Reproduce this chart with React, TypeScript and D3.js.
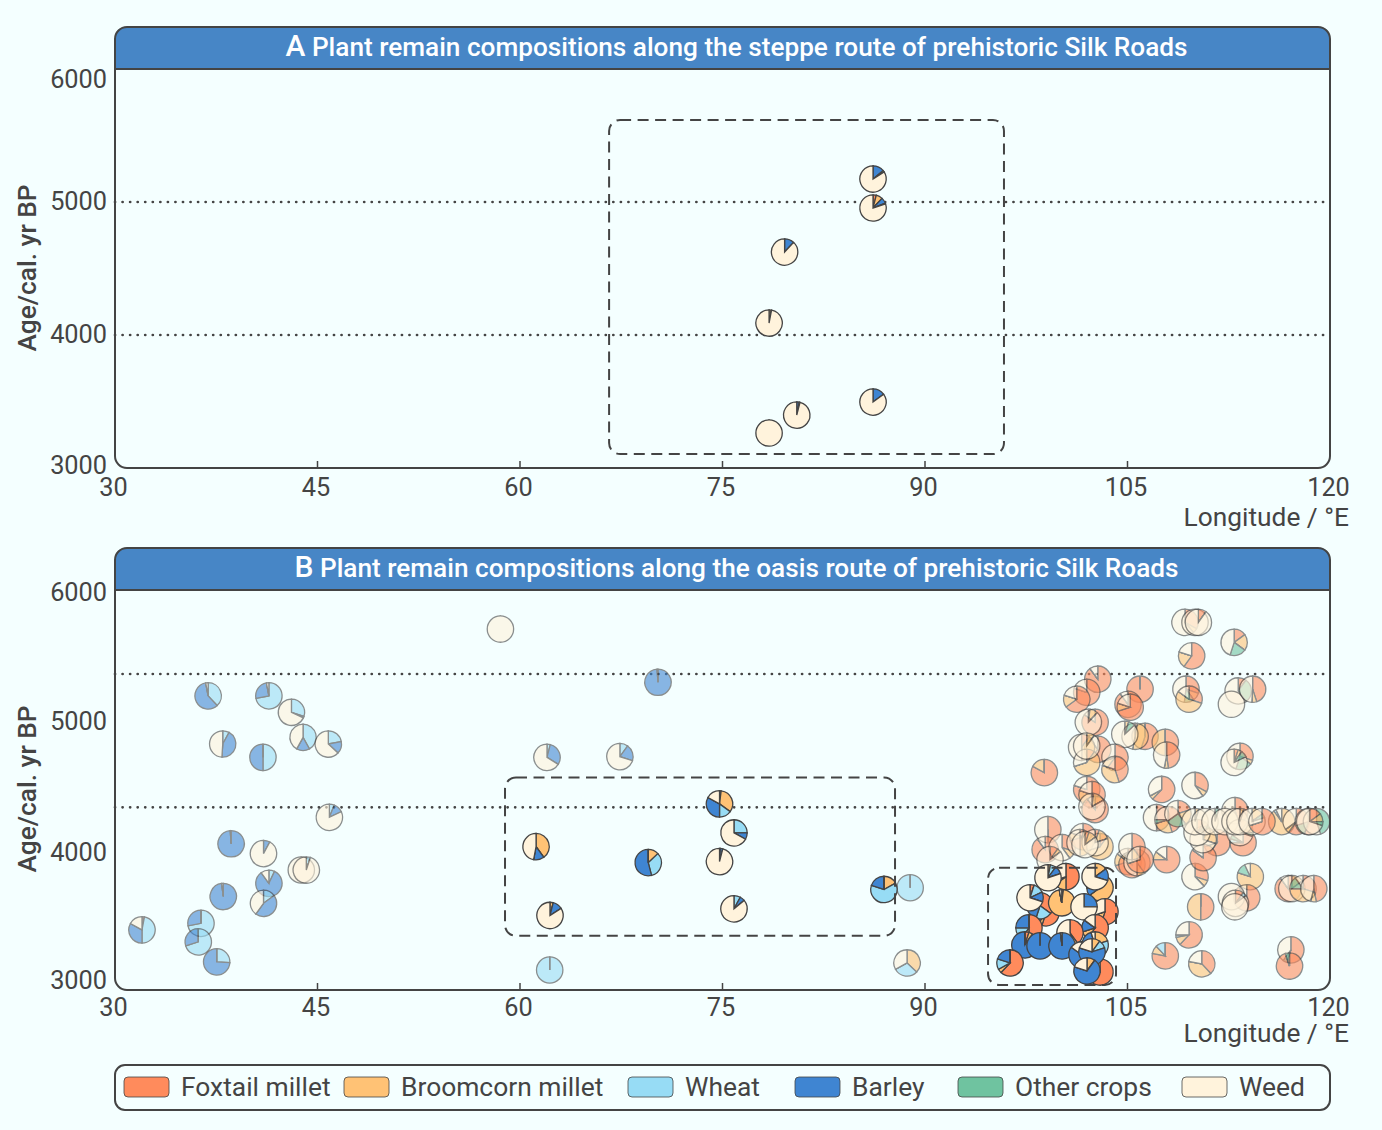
import * as d3 from "d3";

// one site: [longitude, age, foxtail, broomcorn, wheat, barley, other, weed]
type Site = number[];

const CROPS: string[] = ["Foxtail millet", "Broomcorn millet", "Wheat", "Barley", "Other crops", "Weed"];
const CROP_COLORS: string[] = ["#FF8B5C", "#FFC275", "#97DCF5", "#3F85D2", "#6FC3A0", "#FFF3DC"];

const LON_TICKS: number[] = [30, 45, 60, 75, 90, 105, 120];
const AGE_TICKS: number[] = [3000, 4000, 5000, 6000];

const STEPPE_LINES: number[] = [5000, 4000];
const OASIS_LINES: number[] = [5370, 4370];

// [lon min, lon max, age min, age max]
const STEPPE_BOX: number[][] = [[66.6, 95.85, 3105, 5617]];
const OASIS_BOXES: number[][] = [[58.89, 87.78, 3406, 4594], [94.67, 104.15, 3038, 3917]];

const steppeSites: Site[] = [
    [86.15, 5173, 0, 0, 0, 14, 2, 84],
    [86.15, 4955, 4, 8, 0, 7, 1, 80],
    [79.6, 4624, 0, 0, 0, 12, 0, 88],
    [78.45, 4090, 0, 3, 0, 0, 0, 97],
    [86.15, 3496, 0, 0, 0, 15, 0, 85],
    [80.5, 3398, 0, 0, 0, 3, 1, 96],
    [78.45, 3263, 0, 0, 0, 0, 0, 100],
];

// west and middle sites, pale
const oasisWest: Site[] = [
    [36.9, 5206, 0, 0, 38, 59, 0, 3],
    [41.4, 5206, 0, 0, 72, 25, 0, 3],
    [43.07, 5083, 0, 0, 30, 2, 0, 68],
    [43.93, 4895, 0, 0, 42, 16, 0, 42],
    [45.8, 4845, 0, 0, 22, 15, 0, 63],
    [37.98, 4845, 0, 0, 8, 43, 0, 49],
    [40.96, 4745, 0, 0, 50, 50, 0, 0],
    [45.88, 4295, 0, 0, 6, 12, 0, 82],
    [38.6, 4097, 0, 0, 0, 99, 0, 1],
    [41.0, 4023, 0, 0, 0, 8, 0, 92],
    [43.8, 3900, 0, 0, 0, 0, 0, 100],
    [44.17, 3900, 0, 0, 5, 0, 0, 95],
    [41.4, 3800, 0, 0, 7, 83, 0, 10],
    [38.02, 3701, 0, 0, 0, 98, 0, 2],
    [41.0, 3650, 0, 0, 15, 45, 0, 40],
    [32.0, 3451, 3, 0, 47, 33, 0, 17],
    [36.37, 3500, 0, 0, 72, 28, 0, 0],
    [36.17, 3361, 0, 0, 70, 30, 0, 0],
    [37.53, 3211, 0, 0, 26, 74, 0, 0],
    [58.55, 5707, 0, 0, 0, 0, 0, 100],
    [70.22, 5308, 0, 0, 0, 99, 0, 1],
    [62.0, 4745, 0, 0, 4, 30, 0, 66],
    [67.4, 4750, 0, 0, 10, 20, 0, 70],
    [88.9, 3767, 0, 0, 100, 0, 0, 0],
    [62.2, 3150, 0, 0, 100, 0, 0, 0],
    [88.67, 3203, 0, 37, 30, 0, 0, 33],
];

// east sites, pale, back to front
const oasisEast: Site[] = [
    [98.84, 4630, 83, 17, 0, 0, 0, 0],
    [102.8, 5331, 90, 0, 0, 0, 0, 10],
    [101.98, 5233, 80, 0, 0, 0, 0, 20],
    [101.24, 5181, 65, 15, 0, 0, 0, 20],
    [105.93, 5256, 100, 0, 0, 0, 0, 0],
    [105.04, 5143, 90, 0, 0, 0, 0, 10],
    [105.2, 5121, 70, 10, 0, 0, 0, 20],
    [102.6, 5008, 85, 0, 0, 0, 0, 15],
    [102.1, 5008, 2, 10, 0, 0, 0, 88],
    [106.3, 4903, 55, 45, 0, 0, 0, 0],
    [105.56, 4903, 3, 50, 0, 0, 0, 47],
    [104.8, 4918, 0, 5, 0, 0, 8, 87],
    [107.8, 4857, 50, 50, 0, 0, 0, 0],
    [107.9, 4762, 48, 5, 0, 0, 0, 47],
    [102.8, 4805, 60, 30, 0, 0, 0, 10],
    [101.6, 4820, 10, 40, 0, 0, 0, 50],
    [104.07, 4745, 60, 10, 0, 0, 0, 30],
    [104.07, 4654, 45, 35, 0, 0, 0, 20],
    [101.98, 4707, 10, 60, 0, 0, 0, 30],
    [101.98, 4830, 0, 10, 0, 0, 0, 90],
    [107.53, 4504, 62, 5, 0, 0, 0, 33],
    [110.0, 4534, 33, 7, 0, 0, 0, 60],
    [101.98, 4504, 80, 0, 0, 0, 0, 20],
    [102.37, 4466, 60, 20, 0, 0, 0, 20],
    [102.6, 4354, 90, 0, 0, 0, 0, 10],
    [102.37, 4376, 2, 15, 0, 0, 0, 83],
    [99.1, 4203, 50, 0, 0, 0, 0, 50],
    [98.9, 4053, 90, 0, 0, 0, 0, 10],
    [100.15, 4068, 30, 10, 0, 0, 0, 60],
    [99.26, 3978, 10, 5, 0, 0, 0, 85],
    [105.04, 3963, 70, 15, 0, 0, 0, 15],
    [105.33, 3940, 85, 5, 0, 0, 0, 10],
    [105.7, 3955, 40, 10, 0, 0, 0, 50],
    [105.33, 4075, 40, 10, 0, 0, 0, 50],
    [101.7, 4150, 70, 10, 0, 0, 0, 20],
    [101.48, 4105, 5, 45, 0, 0, 0, 50],
    [102.96, 4075, 10, 60, 0, 0, 0, 30],
    [102.6, 4105, 5, 15, 0, 0, 0, 80],
    [101.85, 4090, 5, 10, 0, 0, 0, 85],
    [105.93, 3978, 70, 0, 0, 0, 0, 30],
    [107.15, 4293, 50, 0, 0, 0, 0, 50],
    [108.0, 4278, 45, 25, 0, 0, 5, 25],
    [108.74, 4323, 20, 20, 0, 0, 25, 35],
    [107.9, 3978, 75, 10, 0, 0, 0, 15],
    [110.0, 3850, 30, 8, 0, 0, 0, 62],
    [114.1, 3850, 0, 80, 0, 0, 13, 7],
    [113.83, 3692, 90, 0, 0, 0, 0, 10],
    [110.42, 3624, 50, 50, 0, 0, 0, 0],
    [109.56, 3414, 62, 10, 3, 0, 0, 25],
    [107.8, 3256, 78, 10, 12, 0, 0, 0],
    [110.5, 3196, 38, 40, 0, 0, 0, 22],
    [117.1, 3301, 55, 0, 0, 0, 5, 40],
    [117.0, 3180, 95, 0, 0, 0, 5, 0],
    [116.42, 4263, 0, 90, 3, 0, 0, 7],
    [117.5, 4263, 60, 5, 0, 0, 0, 35],
    [118.4, 4263, 55, 0, 0, 0, 15, 30],
    [119.0, 4263, 0, 0, 0, 0, 45, 55],
    [118.5, 4263, 15, 10, 0, 0, 5, 70],
    [116.9, 3760, 90, 0, 0, 0, 0, 10],
    [117.17, 3760, 0, 15, 0, 0, 0, 85],
    [118.0, 3760, 30, 45, 0, 0, 15, 10],
    [118.8, 3760, 47, 7, 0, 0, 0, 46],
    [112.9, 5607, 15, 20, 0, 0, 20, 45],
    [109.33, 5256, 30, 10, 0, 0, 12, 48],
    [109.56, 5181, 30, 55, 0, 0, 0, 15],
    [113.2, 5243, 10, 0, 0, 0, 30, 60],
    [112.7, 5143, 0, 0, 0, 0, 0, 100],
    [114.27, 5256, 45, 6, 0, 0, 0, 49],
    [109.26, 5757, 33, 6, 0, 0, 0, 61],
    [110.0, 5757, 0, 0, 0, 0, 0, 100],
    [110.25, 5757, 10, 0, 0, 0, 0, 90],
    [109.75, 5506, 60, 20, 0, 0, 0, 20],
    [113.33, 4752, 30, 5, 0, 0, 20, 45],
    [112.9, 4707, 5, 5, 0, 0, 8, 82],
    [112.96, 4345, 45, 0, 0, 0, 0, 55],
    [111.63, 4105, 60, 10, 0, 0, 0, 30],
    [113.56, 4105, 75, 0, 5, 0, 5, 15],
    [110.6, 3993, 85, 0, 0, 0, 0, 15],
    [110.6, 4128, 5, 25, 0, 0, 0, 70],
    [110.15, 4181, 10, 5, 0, 0, 5, 80],
    [110.0, 4263, 0, 5, 0, 0, 0, 95],
    [110.74, 4263, 0, 0, 0, 0, 0, 100],
    [111.48, 4263, 0, 0, 0, 0, 5, 95],
    [112.22, 4263, 0, 0, 0, 0, 0, 100],
    [113.33, 4181, 10, 15, 0, 0, 5, 70],
    [112.96, 4263, 0, 0, 0, 0, 0, 100],
    [113.33, 4263, 0, 5, 0, 0, 0, 95],
    [114.22, 4263, 0, 15, 0, 0, 5, 80],
    [114.96, 4263, 70, 0, 0, 0, 0, 30],
    [112.7, 3700, 0, 0, 0, 0, 0, 100],
    [113.0, 3650, 10, 0, 5, 0, 0, 85],
    [112.95, 3624, 0, 0, 0, 0, 0, 100],
];

// the two dashed boxes, full colour, back to front
const oasisKept: Site[] = [
    [74.78, 4396, 2, 33, 15, 33, 0, 17],
    [75.85, 4178, 0, 0, 25, 8, 0, 67],
    [61.19, 4075, 0, 40, 0, 13, 0, 47],
    [69.5, 3955, 0, 13, 33, 54, 0, 0],
    [74.78, 3963, 1, 0, 0, 3, 0, 96],
    [86.96, 3754, 0, 17, 63, 20, 0, 0],
    [62.22, 3559, 0, 4, 0, 12, 0, 84],
    [75.85, 3609, 0, 0, 8, 6, 0, 86],
    [100.44, 3850, 50, 15, 5, 0, 0, 30],
    [102.96, 3767, 0, 65, 0, 10, 0, 25],
    [103.33, 3587, 55, 15, 0, 0, 0, 30],
    [98.96, 3579, 55, 5, 0, 40, 0, 0],
    [98.52, 3632, 35, 0, 20, 45, 0, 0],
    [97.7, 3466, 50, 10, 15, 25, 0, 0],
    [100.13, 3654, 2, 95, 0, 0, 0, 3],
    [97.78, 3692, 5, 0, 13, 12, 0, 70],
    [99.11, 3842, 0, 3, 7, 10, 0, 80],
    [102.6, 3850, 0, 15, 0, 15, 0, 70],
    [101.78, 3624, 0, 0, 0, 25, 0, 75],
    [102.6, 3466, 60, 10, 0, 15, 0, 15],
    [100.74, 3429, 40, 5, 0, 0, 0, 55],
    [97.4, 3338, 5, 5, 0, 90, 0, 0],
    [98.52, 3331, 0, 0, 0, 100, 0, 0],
    [100.15, 3331, 0, 0, 0, 98, 0, 2],
    [102.96, 3135, 80, 0, 0, 0, 0, 20],
    [101.63, 3263, 0, 10, 0, 75, 0, 15],
    [102.6, 3338, 0, 20, 15, 60, 0, 5],
    [102.37, 3286, 0, 10, 10, 60, 0, 20],
    [102.0, 3143, 0, 10, 0, 70, 0, 20],
    [96.3, 3203, 62, 5, 13, 20, 0, 0],
];

const INK = "#444444";
const PALE = "#f4ffff";
const HEADER = "#4786C6";
const PIE_R = 13.2;

const x_scale = d3.scaleLinear().domain([30, 120]).range([115, 1330]);
const pie_layout = d3.pie<number>().sort(null).value((d) => d);
const arc_path = d3.arc<d3.PieArcDatum<number>>().innerRadius(0).outerRadius(PIE_R);

function PieMark({ site, y, pale }: { site: Site; y: d3.ScaleLinear<number, number>; pale: boolean }) {
    // zero slices stay in: they leave the radial tick seen on single crop pies
    const slices = pie_layout(site.slice(2));
    return (
        <g transform={`translate(${x_scale(site[0])},${y(site[1])})`} opacity={pale ? 0.6 : 1}>
            {slices.map((s, i) => <path key={i} d={arc_path(s)!} fill={CROP_COLORS[i]} stroke={INK} strokeWidth={1.3} />)}
        </g>
    );
}

function Panel({ top, bottom, letter, title, lines, boxes, layers, age_offsets, lon_label_dy, axis_title_dy }: {
    top: number;
    bottom: number;
    letter: string;
    title: string;
    lines: number[];
    boxes: number[][];
    layers: { sites: Site[]; pale: boolean }[];
    age_offsets: number[];
    lon_label_dy: number;
    axis_title_dy: number;
}) {
    const left = x_scale.range()[0];
    const right = x_scale.range()[1];
    const y = d3.scaleLinear().domain([3000, 6000]).range([bottom, top + 42]);
    const tick_font = { fontFamily: "Roboto", fontSize: 25.3, fill: INK };
    const r = 12;
    const header = `M${left},${top + 42}V${top + r}Q${left},${top} ${left + r},${top}H${right - r}Q${right},${top} ${right},${top + r}V${top + 42}Z`;

    return (
        <g>
            <path d={header} fill={HEADER} />
            <text x={736.5} y={top + 29} textAnchor="middle" fontFamily="Roboto" fontWeight={500} fontSize={26.2} fill="#ffffff">
                <tspan fontSize={30}>{letter}</tspan> {title}
            </text>

            {lines.map((v) => (
                <line key={v} x1={left} x2={right} y1={y(v)} y2={y(v)} stroke={INK} strokeWidth={2.7} strokeLinecap="round" strokeDasharray="0.1 7.45" />
            ))}

            {layers.map((layer, k) => (
                <g key={k}>
                    {layer.sites.map((s, i) => <PieMark key={i} site={s} y={y} pale={layer.pale} />)}
                </g>
            ))}

            {boxes.map((b, i) => (
                <rect key={i} x={x_scale(b[0])} y={y(b[3])} width={x_scale(b[1]) - x_scale(b[0])} height={y(b[2]) - y(b[3])} rx={11}
                    fill="none" stroke={INK} strokeWidth={2} strokeDasharray="11 6.5" />
            ))}

            <rect x={left} y={top} width={right - left} height={bottom - top} rx={r} fill="none" stroke={INK} strokeWidth={2} />
            <line x1={left} x2={right} y1={top + 42} y2={top + 42} stroke={INK} strokeWidth={2} />

            {LON_TICKS.slice(1, -1).map((t) => (
                <line key={t} x1={x_scale(t)} x2={x_scale(t)} y1={bottom} y2={bottom - 7} stroke={INK} strokeWidth={1.5} />
            ))}
            {LON_TICKS.map((t) => (
                <text key={t} x={x_scale(t) - 1.5} y={bottom + lon_label_dy} textAnchor="middle" {...tick_font}>{t}</text>
            ))}
            {AGE_TICKS.map((t, i) => (
                <text key={t} x={107} y={y(t) + age_offsets[i]} textAnchor="end" {...tick_font}>{t}</text>
            ))}

            <text x={1349} y={bottom + axis_title_dy} textAnchor="end" fontFamily="Roboto" fontSize={26.3} fill={INK}>Longitude / °E</text>
            <text transform={`translate(36,${top + 241}) rotate(-90)`} textAnchor="middle" fontFamily="Roboto" fontWeight={500} fontSize={26.3} fill={INK}>
                Age/cal. yr BP
            </text>
        </g>
    );
}

function Legend() {
    // swatch left edges
    const swatch_x = [124, 344, 628, 795, 958, 1182];
    return (
        <g>
            <rect x={115} y={1065} width={1215} height={45} rx={10} fill="none" stroke={INK} strokeWidth={2} />
            {CROPS.map((c, i) => (
                <g key={c}>
                    <rect x={swatch_x[i]} y={1077} width={45} height={20} rx={4} fill={CROP_COLORS[i]} stroke={INK} strokeWidth={0.8} />
                    <text x={swatch_x[i] + 57} y={1096} fontFamily="Roboto" fontSize={26.4} fill={INK}>{c}</text>
                </g>
            ))}
        </g>
    );
}

export default function App() {
    return (
        <>
            <style>{`body{margin:0;background:${PALE}}`}</style>
            <svg width={1382} height={1130} style={{ display: "block" }}>
                <rect width={1382} height={1130} fill={PALE} />
                <Panel top={27} bottom={468} letter="A" title="Plant remain compositions along the steppe route of prehistoric Silk Roads"
                    lines={STEPPE_LINES} boxes={STEPPE_BOX} layers={[{ sites: steppeSites, pale: false }]}
                    age_offsets={[6, 8, 8, 19]} lon_label_dy={28} axis_title_dy={58} />
                <Panel top={548} bottom={990} letter="B" title="Plant remain compositions along the oasis route of prehistoric Silk Roads"
                    lines={OASIS_LINES} boxes={OASIS_BOXES}
                    layers={[{ sites: oasisWest, pale: true }, { sites: oasisEast, pale: true }, { sites: oasisKept, pale: false }]}
                    age_offsets={[-1, 4.5, 7, 11]} lon_label_dy={26} axis_title_dy={52} />
                <Legend />
            </svg>
        </>
    );
}
